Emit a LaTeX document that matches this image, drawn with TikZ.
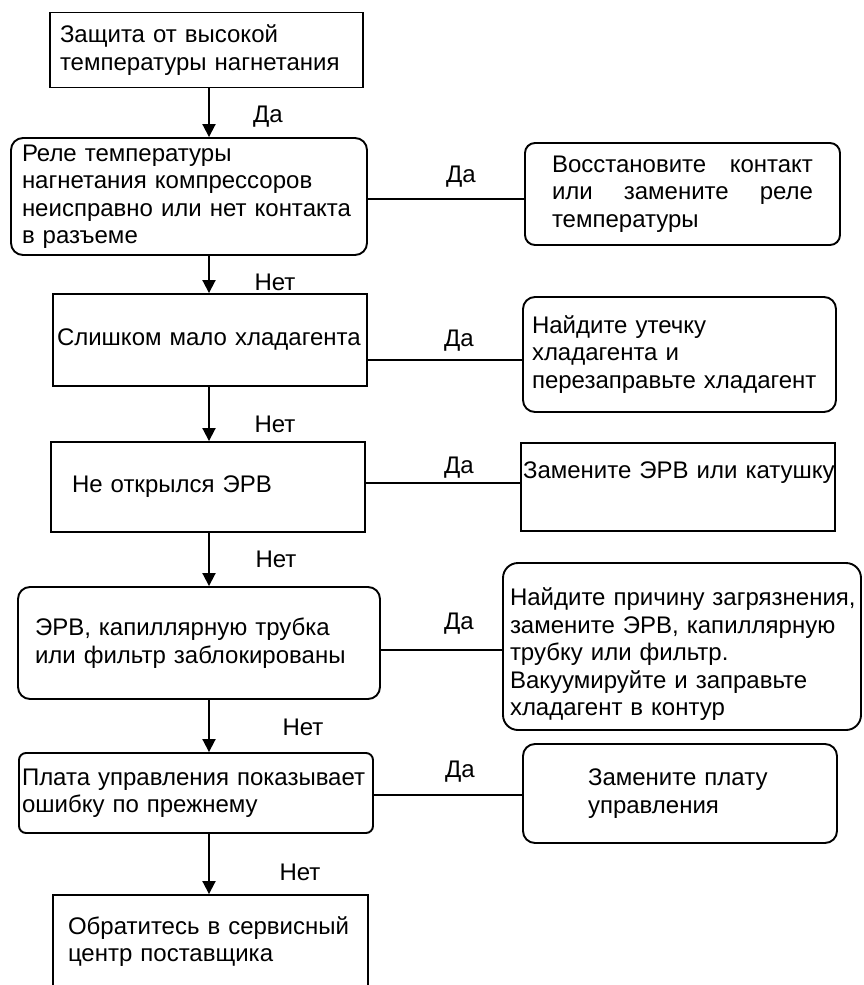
\documentclass[tikz,border=0pt]{standalone}
\usepackage{fontspec}
\setmainfont{Liberation Sans}
\usetikzlibrary{arrows.meta,calc}
\begin{document}
\begin{tikzpicture}[x=1pt,y=-1pt,
  box/.style={draw, line width=1.9pt, align=left, inner ysep=0pt, font=\fontsize{24}{27.5}\selectfont},
  rbox/.style={box, rounded corners=12pt},
  lbl/.style={font=\fontsize{24}{27}\selectfont, inner sep=0pt},
  conn/.style={line width=1.9pt},
  arr/.style={conn, -{Triangle[length=13pt,width=13pt]}}]
\path[fill=white] (0,0) rectangle (863,985);
\useasboundingbox (0,0) rectangle (863,985);
\coordinate (ax) at (209,0);

\node[box, text width=293pt, inner xsep=10pt, minimum height=75pt] (b1) at (206.5,50)
  {Защита от высокой\\температуры нагнетания};
\node[rbox, text width=334pt, inner xsep=11pt, minimum height=117pt] (b2) at (189,196.5)
  {Реле температуры\\нагнетания компрессоров\\неисправно или нет контакта\\в разъеме};
\node[rbox, rounded corners=10pt, text width=261pt, inner xsep=27pt, minimum height=102pt] (b3) at (682.5,194)
  {\makebox[261pt][s]{Восстановите\hfill контакт}\\\makebox[261pt][s]{или\hfill замените\hfill реле}\\температуры};
\node[box, text width=306pt, inner xsep=4pt, minimum height=92pt] (b4) at (210,340)
  {Слишком мало хладагента};
\node[rbox, text width=295pt, inner xsep=9pt, minimum height=115pt] (b5) at (679.5,354.5)
  {Найдите утечку\\хладагента и\\перезаправьте хладагент};
\node[box, text width=272pt, inner xsep=21pt, minimum height=90pt] (b6) at (208,487)
  {Не открылся ЭРВ};
\node[box, text width=310pt, inner xsep=2pt, minimum height=88pt] (b7) at (678,487)
  {\raisebox{14pt}[\height][\depth]{Замените ЭРВ или катушку}};
\node[rbox, text width=328pt, inner xsep=17pt, minimum height=112pt] (b8) at (199,643)
  {ЭРВ, капиллярную трубка\\или фильтр заблокированы};
\node[rbox, rounded corners=15pt, text width=344pt, inner xsep=7pt, minimum height=167pt] (b9) at (682,646.5)
  {\raisebox{-8pt}[\height][\depth]{Найдите причину загрязнения,}\\\raisebox{-8pt}[\height][\depth]{замените ЭРВ, капиллярную}\\\raisebox{-8pt}[\height][\depth]{трубку или фильтр.}\\\raisebox{-8pt}[\height][\depth]{Вакуумируйте и заправьте}\\\raisebox{-8pt}[\height][\depth]{хладагент в контур}};
\node[rbox, rounded corners=7pt, text width=348pt, inner xsep=3pt, minimum height=80pt] (b10) at (196,793)
  {Плата управления показывает\\ошибку по прежнему};
\node[rbox, text width=184pt, inner xsep=65pt, minimum height=99pt] (b11) at (680,793.5)
  {Замените плату\\управления};
\node[box, text width=285pt, inner xsep=15pt, minimum height=93pt] (b12) at (210.5,941.5)
  {Обратитесь в сервисный\\центр поставщика};

\node[lbl] (l1) at (268,117) {Да};
\node[lbl] (l2) at (275,282) {Нет};
\node[lbl] (l3) at (275,424) {Нет};
\node[lbl] (l4) at (276,559) {Нет};
\node[lbl] (l5) at (303,727) {Нет};
\node[lbl] (l6) at (300,872) {Нет};
\node[lbl] (r1) at (461,177) {Да};
\node[lbl] (r2) at (459,341) {Да};
\node[lbl] (r3) at (459,468) {Да};
\node[lbl] (r4) at (459,624) {Да};
\node[lbl] (r5) at (460,772) {Да};

\draw[arr] (b1.south -| ax) -- (b2.north -| ax);
\draw[arr] (b2.south -| ax) -- (b4.north -| ax);
\draw[arr] (b4.south -| ax) -- (b6.north -| ax);
\draw[arr] (b6.south -| ax) -- (b8.north -| ax);
\draw[arr] (b8.south -| ax) -- (b10.north -| ax);
\draw[arr] (b10.south -| ax) -- (b12.north -| ax);

\draw[conn] ([yshift=-2.5pt]b2.east) -- ([yshift=-2.5pt]b2.east -| b3.west);
\draw[conn] ([yshift=-20pt]b4.east) -- ([yshift=-20pt]b4.east -| b5.west);
\draw[conn] ([yshift=4pt]b6.east) -- ([yshift=4pt]b6.east -| b7.west);
\draw[conn] ([yshift=-7pt]b8.east) -- ([yshift=-7pt]b8.east -| b9.west);
\draw[conn] ([yshift=-2pt]b10.east) -- ([yshift=-2pt]b10.east -| b11.west);
\end{tikzpicture}
\end{document}
